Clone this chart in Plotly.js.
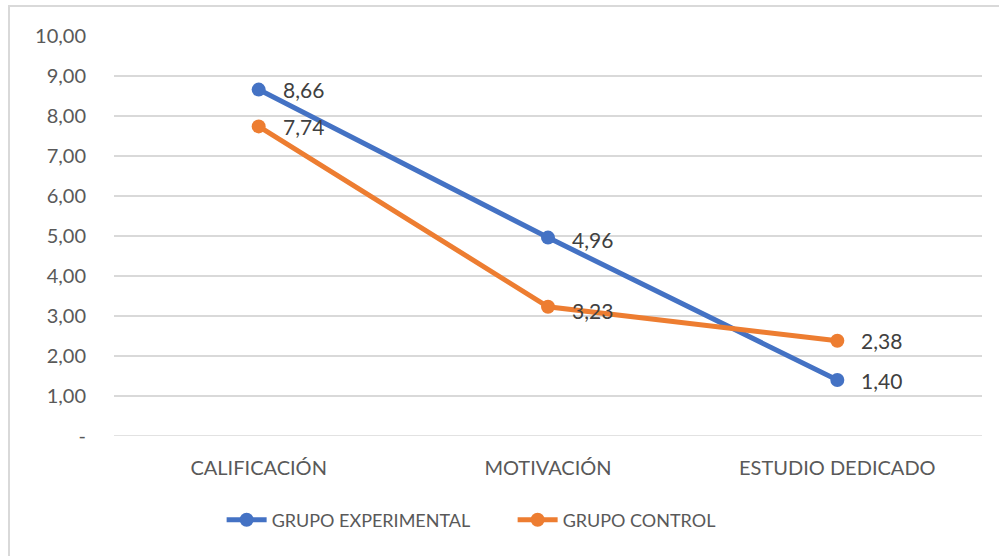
<!DOCTYPE html>
<html>
<head>
<meta charset="utf-8">
<script src="https://cdn.plot.ly/plotly-3.0.1.min.js"></script>
<style>
html,body{margin:0;padding:0;background:#fff;}
#chart{width:999px;height:556px;}
#frame{position:absolute;left:8px;top:5px;width:1000px;height:600px;border-left:2px solid #d9d9d9;border-top:2px solid #d9d9d9;pointer-events:none;}
</style>
</head>
<body>
<div id="chart"></div>
<div id="frame"></div>
<script>
const categories = ["CALIFICACIÓN", "MOTIVACIÓN", "ESTUDIO DEDICADO"];
const seriesNames = ["GRUPO EXPERIMENTAL", "GRUPO CONTROL"];
const experimental = [8.66, 4.96, 1.40];
const control = [7.74, 3.23, 2.38];
const yTickVals = [0,1,2,3,4,5,6,7,8,9,10];
const yTickText = ["-", "1,00", "2,00", "3,00", "4,00", "5,00", "6,00", "7,00", "8,00", "9,00", "10,00"];

const colors = ["#4472C4", "#ED7D31"];
const fontFam = "Lato, 'Open Sans', sans-serif";
const seriesVals = [experimental, control];

const traces = seriesVals.map((vals, i) => ({
  type: "scatter",
  mode: "lines+markers",
  name: seriesNames[i],
  x: categories,
  y: vals,
  line: {color: colors[i], width: 5},
  marker: {color: colors[i], size: 14},
  hoverinfo: "skip"
}));

const fmt = v => v.toFixed(2).replace(".", ",");
const annotations = [];
seriesVals.forEach((vals, i) => {
  vals.forEach((v, j) => {
    annotations.push({
      x: categories[j], y: v, xref: "x", yref: "y",
      text: fmt(v), showarrow: false,
      xanchor: "left", yanchor: "middle",
      xshift: 22, yshift: (i === 1 && j === 1) ? -4 : (j === 1 ? -2 : 0),
      font: {family: fontFam, size: 21, color: "#404040"}
    });
  });
});

const layout = {
  width: 999, height: 556,
  margin: {l: 114, r: 17, t: 36, b: 120},
  paper_bgcolor: "#fff", plot_bgcolor: "#fff",
  showlegend: true,
  legend: {
    orientation: "h", x: 0.124, xanchor: "left", xref: "paper",
    y: -0.21, yanchor: "middle",
    font: {family: fontFam, size: 18, color: "#595959"},
    itemwidth: 40, entrywidth: 236, traceorder: "normal"
  },
  xaxis: {
    type: "category", range: [-0.5, 2.5],
    showgrid: false, zeroline: false, showline: false,
    ticks: "", ticklabelstandoff: 18,
    tickfont: {family: fontFam, size: 20, color: "#595959"},
    fixedrange: true
  },
  yaxis: {
    range: [0, 10], tickvals: yTickVals, ticktext: yTickText,
    showgrid: true, gridcolor: "#d9d9d9", gridwidth: 1.5,
    zeroline: false, showline: false, ticks: "",
    ticklabelstandoff: 27,
    tickfont: {family: fontFam, size: 20, color: "#595959"},
    fixedrange: true
  },
  shapes: [{type: "line", xref: "paper", yref: "y", x0: 0, x1: 1, y0: 0, y1: 0, line: {color: "#d9d9d9", width: 1.5}, layer: "below"}],
  annotations: annotations
};

Plotly.newPlot("chart", traces, layout, {displayModeBar: false, staticPlot: true});
</script>
</body>
</html>
